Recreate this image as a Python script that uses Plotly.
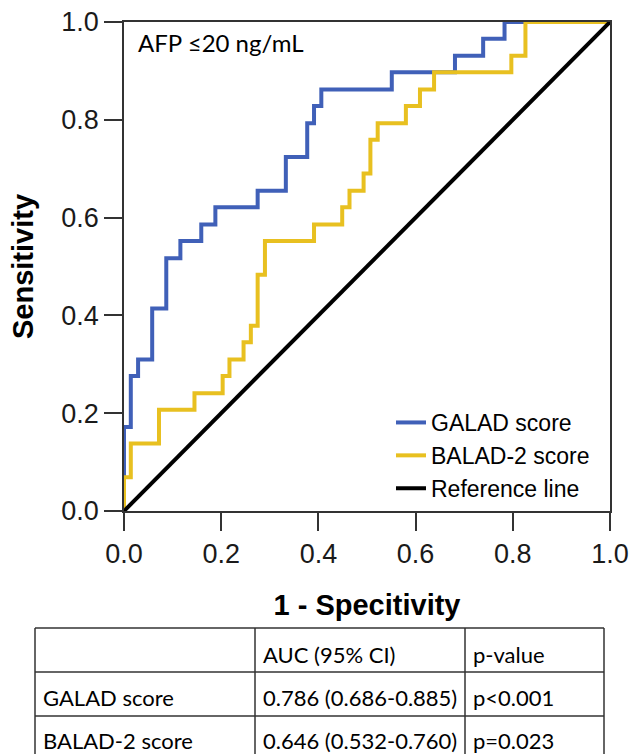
import plotly.graph_objects as go

# ---------------- data ----------------
galad_fpr = [0, 0, 0.014, 0.029, 0.058, 0.087, 0.116, 0.159, 0.188, 0.275, 0.333,
             0.377, 0.391, 0.406, 0.551, 0.681, 0.739, 0.783, 1.0]
galad_tpr = [0, 0.172, 0.276, 0.310, 0.414, 0.517, 0.552, 0.586, 0.621, 0.655, 0.724,
             0.793, 0.828, 0.862, 0.897, 0.931, 0.966, 1.0, 1.0]

balad_fpr = [0, 0, 0.014, 0.072, 0.145, 0.203, 0.217, 0.246, 0.261, 0.275, 0.290,
             0.391, 0.449, 0.464, 0.493, 0.507, 0.522, 0.580, 0.609, 0.638, 0.797,
             0.826, 1.0]
balad_tpr = [0, 0.069, 0.138, 0.207, 0.241, 0.276, 0.310, 0.345, 0.379, 0.483, 0.552,
             0.586, 0.621, 0.655, 0.690, 0.759, 0.793, 0.828, 0.862, 0.897, 0.931,
             1.0, 1.0]

ref_x = [0, 1]
ref_y = [0, 1]

series_names = ["GALAD score", "BALAD-2 score", "Reference line"]
tick_vals = [0.0, 0.2, 0.4, 0.6, 0.8, 1.0]
tick_text = ["0.0", "0.2", "0.4", "0.6", "0.8", "1.0"]

table_header = ["", "AUC (95% CI)", "p-value"]
table_rows = [
    ["GALAD score", "0.786 (0.686-0.885)", "p<0.001"],
    ["BALAD-2 score", "0.646 (0.532-0.760)", "p=0.023"],
]
subtitle = "AFP \u226420 ng/mL"

# ---------------- layout helpers ----------------
W, H = 634, 754
L, R, T, B = 124, 610, 22, 511  # plot area in pixels


def px(xp):
    return (xp - L) / (R - L)


def py(yp):
    return (B - yp) / (B - T)


BLUE = "#4060B8"
YELLOW = "#E8C020"
AXIS = "#333333"
SANS = "Liberation Sans, Arial"

fig = go.Figure()
fig.add_trace(go.Scatter(x=galad_fpr, y=galad_tpr, mode="lines", line_shape="hv",
                         line=dict(color=BLUE, width=4), name=series_names[0]))
fig.add_trace(go.Scatter(x=balad_fpr, y=balad_tpr, mode="lines", line_shape="hv",
                         line=dict(color=YELLOW, width=4), name=series_names[1]))
fig.add_trace(go.Scatter(x=ref_x, y=ref_y, mode="lines",
                         line=dict(color="black", width=4), name=series_names[2]))

axis_common = dict(
    range=[0, 1], tickvals=tick_vals, ticktext=tick_text, automargin=False,
    showgrid=False, zeroline=False, showline=True, linecolor=AXIS, linewidth=1.5,
    mirror=True, ticks="outside", ticklen=18, tickwidth=1.5, tickcolor=AXIS,
    tickfont=dict(family=SANS, size=27, color="#1a1a1a"),
    fixedrange=True,
)

fig.update_layout(
    width=W, height=H, autosize=False,
    margin=dict(l=L, r=W - R, t=T, b=H - B, autoexpand=False),
    paper_bgcolor="white", plot_bgcolor="white",
    showlegend=True,
    legend=dict(x=px(391), y=py(401), xanchor="left", yanchor="top",
                bgcolor="rgba(0,0,0,0)", borderwidth=0, tracegroupgap=0,
                font=dict(family=SANS, size=23, color="black")),
    xaxis=dict(**axis_common,
               title=dict(text="<b>1 - Specitivity</b>", standoff=27,
                          font=dict(family=SANS, size=29, color="black"))),
    yaxis=dict(**axis_common,
               title=dict(text="<b>Sensitivity</b>", standoff=19,
                          font=dict(family=SANS, size=29, color="black"))),
)

# subtitle annotation inside plot
fig.add_annotation(x=px(136), y=py(42), xref="paper", yref="paper", text=subtitle,
                   showarrow=False, xanchor="left", yanchor="middle",
                   font=dict(family="Lato", size=24, color="black"))

# ---------------- table ----------------
col_edges = [35, 255, 465, 604]
row_edges = [628, 672, 716, 770]
line_style = dict(color=AXIS, width=1.5)
for xe in col_edges:
    fig.add_shape(type="line", xref="paper", yref="paper",
                  x0=px(xe), x1=px(xe), y0=py(row_edges[0]), y1=py(row_edges[-1]),
                  line=line_style)
for ye in row_edges[:-1]:
    fig.add_shape(type="line", xref="paper", yref="paper",
                  x0=px(col_edges[0]), x1=px(col_edges[-1]), y0=py(ye), y1=py(ye),
                  line=line_style)

text_y = [654, 698, 740]
all_rows = [table_header] + table_rows
for r, row in enumerate(all_rows):
    for c, cell in enumerate(row):
        if not cell:
            continue
        fig.add_annotation(x=px(col_edges[c] + 6), y=py(text_y[r]), xref="paper", yref="paper",
                           text=cell, showarrow=False, xanchor="left", yanchor="middle",
                           font=dict(family="Lato", size=22, color="black"))

fig.write_html("out.html")
